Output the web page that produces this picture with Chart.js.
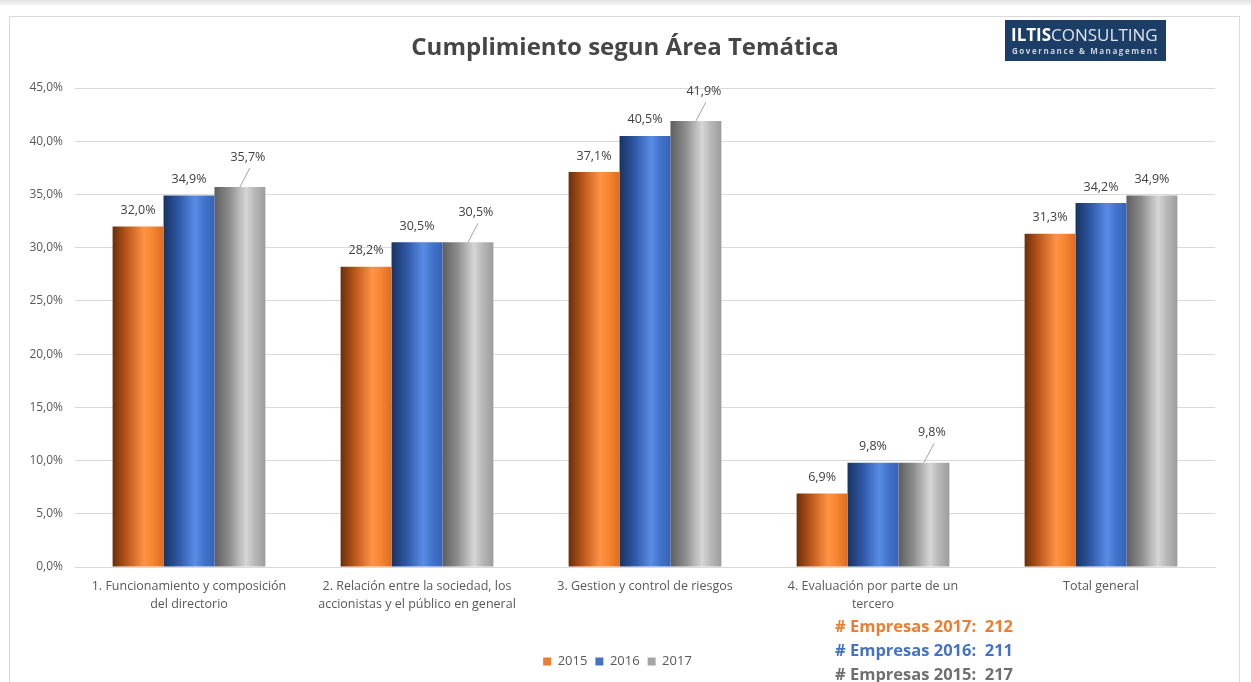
<!DOCTYPE html>
<html>
<head>
<meta charset="utf-8">
<script src="https://cdn.jsdelivr.net/npm/chart.js@4.4.0/dist/chart.umd.min.js"></script>
<style>
  html, body { margin: 0; padding: 0; background: #fff; }
  canvas { display: block; }
</style>
</head>
<body>
<canvas id="chart" width="1251" height="682"></canvas>
<script>
// data
const categories = [
  ['1. Funcionamiento y composición', 'del directorio'],
  ['2. Relación entre la sociedad, los', 'accionistas y el público en general'],
  '3. Gestion y control de riesgos',
  ['4. Evaluación por parte de un', 'tercero'],
  'Total general'
];
const years = ['2015', '2016', '2017'];
const values2015 = [32.0, 28.2, 37.1, 6.9, 31.3];
const values2016 = [34.9, 30.5, 40.5, 9.8, 34.2];
const values2017 = [35.7, 30.5, 41.9, 9.8, 34.9];
const yTicks = [0, 5, 10, 15, 20, 25, 30, 35, 40, 45];
const empresasYears = ['2017', '2016', '2015'];
const empresasCount = [212, 211, 217];

const titleText = 'Cumplimiento segun Área Temática';
const colors = ['#ED7D31', '#4472C4', '#A5A5A5'];
const empresasColors = ['#ED7D31', '#4472C4', '#6F6F6F'];
// cylinder-like shading per series
const shades = [
  [[0, '#6a2e0b'], [0.3, '#c05a1c'], [0.62, '#ff9446'], [0.8, '#f5842f'], [1, '#dc6d22']],
  [[0, '#1a3462'], [0.3, '#2f58a6'], [0.62, '#5a8ce6'], [0.8, '#4274cc'], [1, '#3762b6']],
  [[0, '#5e5e5e'], [0.3, '#8e8e8e'], [0.62, '#d6d6d6'], [0.78, '#b9b9b9'], [1, '#9c9c9c']]
];
// 2017 labels are pulled up with a leader line, except the last
const leader2017 = [true, true, true, true, false];

const fmt = v => v.toFixed(1).replace('.', ',') + '%';
const FONT = "'Open Sans', 'Noto Sans', sans-serif";

const framePlugin = {
  id: 'frame',
  beforeDraw(chart) {
    const c = chart.ctx;
    c.save();
    c.fillStyle = '#fff';
    c.fillRect(0, 0, chart.width, chart.height);
    const g = c.createLinearGradient(0, 0, 0, 6);
    g.addColorStop(0, '#e4e4e4');
    g.addColorStop(1, '#f6f6f6');
    c.fillStyle = g;
    c.fillRect(0, 0, chart.width, 5);
    c.strokeStyle = '#d9d9d9';
    c.lineWidth = 1;
    c.strokeRect(9.5, 16.5, 1230, 700);
    c.restore();
  }
};

const shadePlugin = {
  id: 'shade',
  beforeDatasetsDraw(chart) {
    const c = chart.ctx;
    chart.data.datasets.forEach((ds, i) => {
      chart.getDatasetMeta(i).data.forEach(el => {
        const l = el.x - el.width / 2, r = el.x + el.width / 2;
        const g = c.createLinearGradient(l, 0, r, 0);
        shades[i].forEach(([s, col]) => g.addColorStop(s, col));
        el.options = Object.assign({}, el.options, { backgroundColor: g });
      });
    });
  }
};

const labelPlugin = {
  id: 'valueLabels',
  afterDatasetsDraw(chart) {
    const c = chart.ctx;
    c.save();
    c.font = '12.5px ' + FONT;
    c.fillStyle = '#404040';
    c.textAlign = 'center';
    c.textBaseline = 'middle';
    chart.data.datasets.forEach((ds, i) => {
      chart.getDatasetMeta(i).data.forEach((el, j) => {
        const txt = fmt(ds.data[j]);
        if (i === 2 && leader2017[j]) {
          c.strokeStyle = '#a6a6a6';
          c.lineWidth = 1;
          c.beginPath();
          c.moveTo(el.x, el.y);
          c.lineTo(el.x + 10, el.y - 19);
          c.stroke();
          c.fillText(txt, el.x + 8, el.y - 30);
        } else {
          c.fillText(txt, el.x, el.y - 16);
        }
      });
    });
    c.restore();
  }
};

const decorPlugin = {
  id: 'decor',
  afterDraw(chart) {
    const c = chart.ctx;
    c.save();
    // title
    c.fillStyle = '#464646';
    c.font = 'bold 24px ' + FONT;
    c.textAlign = 'center';
    c.textBaseline = 'middle';
    c.fillText(titleText, 625, 48);
    // logo
    c.fillStyle = '#1b3d66';
    c.fillRect(1005, 20, 161, 41);
    c.textAlign = 'left';
    c.textBaseline = 'alphabetic';
    c.fillStyle = '#ffffff';
    c.font = 'bold 17px ' + FONT;
    c.fillText('ILTIS', 1011, 41);
    const w = c.measureText('ILTIS').width;
    c.font = '17px ' + FONT;
    c.fillStyle = '#dfe6ef';
    c.fillText('CONSULTING', 1011 + w, 41);
    c.font = 'bold 8px ' + FONT;
    c.fillStyle = '#c9d3df';
    c.letterSpacing = '1.55px';
    c.fillText('Governance & Management', 1012, 54);
    c.letterSpacing = '0px';
    // company counts
    c.font = 'bold 16.5px ' + FONT;
    c.textBaseline = 'middle';
    empresasYears.forEach((y, k) => {
      c.fillStyle = empresasColors[k];
      c.fillText('# Empresas ' + y + ':  ' + empresasCount[k], 835, 627 + k * 24);
    });
    c.restore();
  }
};

new Chart(document.getElementById('chart'), {
  type: 'bar',
  data: {
    labels: categories,
    datasets: [
      { label: years[0], data: values2015, backgroundColor: colors[0] },
      { label: years[1], data: values2016, backgroundColor: colors[1] },
      { label: years[2], data: values2017, backgroundColor: colors[2] }
    ]
  },
  options: {
    responsive: false,
    animation: false,
    devicePixelRatio: 1,
    datasets: { bar: { categoryPercentage: 0.67, barPercentage: 1, borderWidth: 0 } },
    layout: { padding: { left: 20, right: 36, top: 88, bottom: 4 } },
    plugins: {
      title: { display: false },
      tooltip: { enabled: false },
      legend: {
        position: 'bottom',
        labels: {
          font: { family: FONT, size: 13 },
          color: '#595959',
          boxWidth: 8,
          boxHeight: 8,
          padding: 8
        }
      }
    },
    scales: {
      x: {
        grid: { display: false },
        border: { display: true, color: '#d9d9d9' },
        ticks: {
          font: { family: FONT, size: 12.5, lineHeight: 1.42 },
          color: '#595959',
          padding: 3,
          maxRotation: 0,
          autoSkip: false
        },
        afterFit(scale) { scale.height = 80; }
      },
      y: {
        min: 0,
        max: 45,
        afterBuildTicks(scale) { scale.ticks = yTicks.map(v => ({ value: v })); },
        grid: { color: '#d9d9d9', drawTicks: false },
        border: { display: false },
        ticks: {
          font: { family: FONT, size: 12 },
          color: '#595959',
          padding: 12,
          callback: v => fmt(v)
        },
        afterFit(scale) { scale.width = 55; }
      }
    }
  },
  plugins: [framePlugin, shadePlugin, labelPlugin, decorPlugin]
});
</script>
</body>
</html>
